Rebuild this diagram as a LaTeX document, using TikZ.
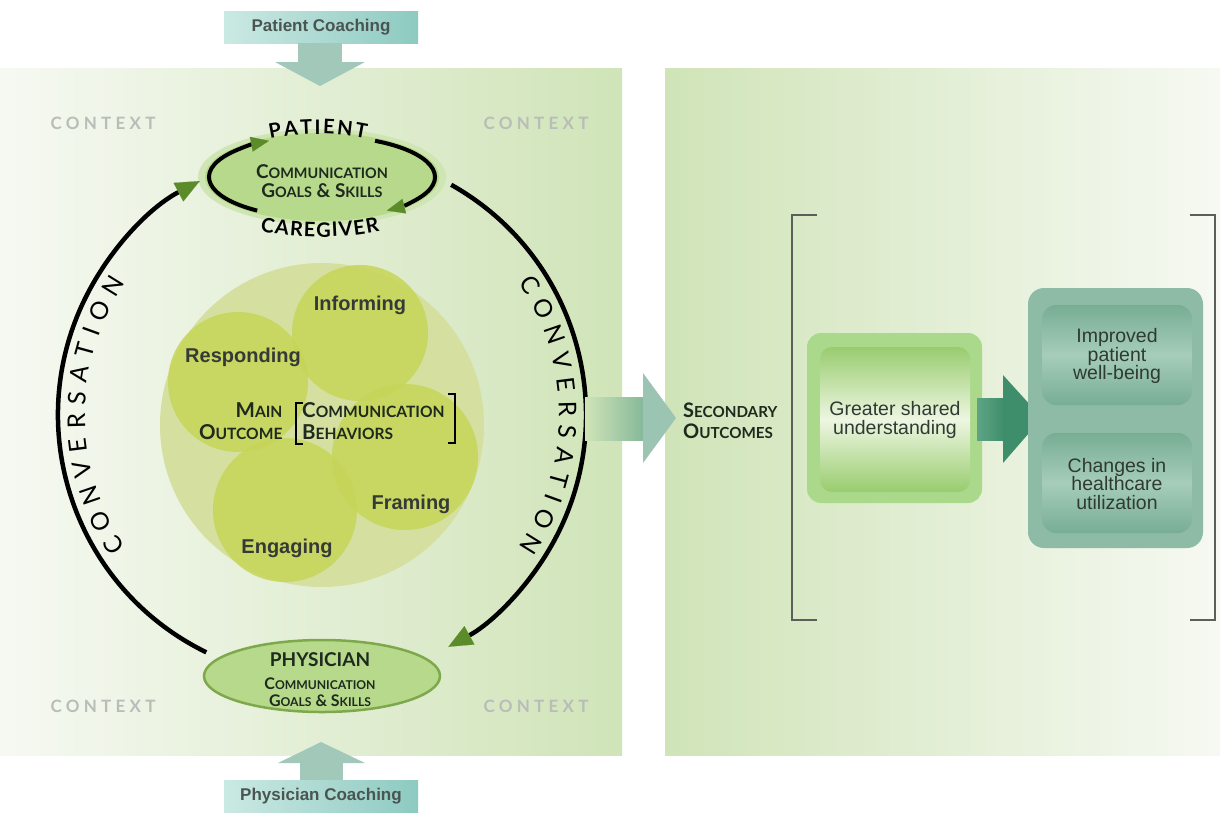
\documentclass[tikz,border=0pt]{standalone}
\usepackage{fontspec}
\setmainfont{Liberation Sans}
\newfontfamily\hum{Lato}
\newfontfamily\ctx[LetterSpace=25]{Lato}
\usetikzlibrary{decorations.text,arrows.meta,shapes.geometric,calc}
\makeatletter
\newcommand\sk[1]{{\fontsize{\strip@pt\dimexpr\f@size pt*76/100\relax}{0}\selectfont #1}}
\makeatother
\definecolor{panelG}{HTML}{D0E4B8}
\definecolor{panelW}{HTML}{F6F9F2}
\definecolor{ellG}{HTML}{B7D98B}
\definecolor{haloG}{HTML}{CFE6B4}
\definecolor{ellEdge}{HTML}{7DA94C}
\definecolor{tipG}{HTML}{5C8C2A}
\definecolor{bigC}{HTML}{D5E0A0}
\definecolor{petal}{HTML}{C6D558}
\definecolor{ctxGray}{HTML}{B8BDB8}
\definecolor{tealA}{HTML}{86B99A}
\definecolor{tealB}{HTML}{9CC4B2}
\definecolor{dteal}{HTML}{3E8E6C}
\definecolor{dtealL}{HTML}{5FA486}
\definecolor{boxOut}{HTML}{8DBBA5}
\definecolor{boxInD}{HTML}{78AD94}
\definecolor{boxInL}{HTML}{A6CDBA}
\definecolor{gsuOut}{HTML}{ABD98C}
\definecolor{gsuIn}{HTML}{98CC6E}
\definecolor{gsuMid}{HTML}{EEF6E2}
\definecolor{txt}{HTML}{2F3A33}
\definecolor{behT}{HTML}{363A36}
\definecolor{smtxt}{HTML}{1E2A1E}
\definecolor{coachA}{HTML}{CBE9E3}
\definecolor{coachB}{HTML}{8DCAC1}
\definecolor{coachT}{HTML}{4A5552}
\definecolor{cArrow}{HTML}{A2C8BA}
\definecolor{brk}{HTML}{5A5F5A}
\tikzset{
  ctxt/.style={font=\ctx\bfseries\fontsize{17}{19}\selectfont, text=ctxGray},
  beh/.style={font=\bfseries\fontsize{20}{22}\selectfont, text=behT, anchor=base},
  outtxt/.style={font=\fontsize{19.5}{18.5}\selectfont, text=txt, align=center},
  scx/.style={font=\hum\bfseries\fontsize{15}{22}\selectfont, text=smtxt},
  coach/.style={font=\bfseries\fontsize{17}{19}\selectfont, text=coachT},
  conv/.style={line width=4.5pt, black, -{Triangle[length=24pt,width=21pt,color=tipG,line width=0.1pt]}},
  patarc/.style={line width=4pt, black, -{Triangle[length=18pt,width=15pt,color=tipG,line width=0.1pt]}},
  petalc/.style={fill=petal, fill opacity=0.85},
  brack/.style={draw=brk, line width=1.4pt},
}
\begin{document}
\begin{tikzpicture}[x=1pt,y=1pt]
\useasboundingbox (0,0) rectangle (1220,-812);
\fill[white] (0,0) rectangle (1220,-812);
% panels
\shade[left color=panelW, right color=panelG] (0,-68) rectangle (622,-755);
\shade[left color=panelG, right color=panelW] (665,-68) rectangle (1220,-755);

% coaching boxes and arrows
\shade[left color=coachA, right color=coachB] (224,-11) rectangle (418,-43);
\node[coach] (pcoach) at (321,-27) {Patient Coaching};
\fill[cArrow] (298,-43) rectangle (342,-62);
\fill[cArrow] (275,-62) -- (365,-62) -- (320,-86) -- cycle;

\fill[cArrow] (300,-763) rectangle (343,-782);
\fill[cArrow] (278,-763) -- (365,-763) -- (321,-742) -- cycle;
\shade[left color=coachA, right color=coachB] (224,-780) rectangle (418,-812);
\node[coach] (phcoach) at (321,-796) {Physician Coaching};

% context labels
\node[ctxt] (c1) at (103,-123) {CONTEXT};
\node[ctxt] (c2) at (536,-123) {CONTEXT};
\node[ctxt] (c3) at (103,-706) {CONTEXT};
\node[ctxt] (c4) at (536,-706) {CONTEXT};

% central circle and petals
\fill[bigC] (322,-425) circle (162);
\fill[petalc] (285,-510) circle (72);
\fill[petalc] (405,-457) circle (73);
\fill[petalc] (238,-382) circle (70);
\fill[petalc] (360,-333) circle (68);
\node[beh] (inf) at (360,-310) {Informing};
\node[beh] (res) at (243,-362) {Responding};
\node[beh] (fra) at (411,-509) {Framing};
\node[beh] (eng) at (287,-553) {Engaging};
\node[scx, anchor=east, align=right, font=\hum\bfseries\fontsize{20.5}{22}\selectfont] (mo) at (286,-421) {M\sk{AIN}\\O\sk{UTCOME}};
\node[scx, anchor=west, align=left, font=\hum\bfseries\fontsize{20.5}{22}\selectfont, inner xsep=2pt] (cb) at (300,-421) {C\sk{OMMUNICATION}\\B\sk{EHAVIORS}};
\draw[brack, line width=1.2pt, draw=black] (303,-403) -- (296,-403) -- (296,-444) -- (303,-444);
\draw[brack, line width=1.2pt, draw=black] (448,-394) -- (455,-394) -- (455,-443) -- (448,-443);

% patient ellipse
\fill[haloG] (322,-177) ellipse [x radius=124, y radius=48];
\node[ellipse, fill=ellG, minimum width=234pt, minimum height=88pt, inner sep=0pt] (pat) at (322,-177) {};
\node[scx, align=center, font=\hum\bfseries\fontsize{19}{19}\selectfont] (pattxt) at (322,-181) {C\sk{OMMUNICATION}\\G\sk{OALS} \& S\sk{KILLS}};
\draw[patarc] (pat.center) ++(235:113 and 41) arc[start angle=235, end angle=118, x radius=113, y radius=41];
\draw[patarc] (pat.center) ++(62:113 and 41) arc[start angle=62, end angle=-55, x radius=113, y radius=41];
\coordinate (patC) at (318,-364);
\path[decorate, decoration={text along path, text={|\hum\bfseries\fontsize{20}{22}\selectfont|PATIENT}, text align={fit to path}}] (patC) ++(102:230) arc[start angle=102, end angle=78, radius=230];
\coordinate (cgC) at (320,63);
\path[decorate, decoration={text along path, text={|\hum\bfseries\fontsize{20}{22}\selectfont|CAREGIVER}, text align={fit to path}}] (cgC) ++(258.5:300) arc[start angle=258.5, end angle=281.5, radius=300];

% physician ellipse
\node[ellipse, fill=ellG, draw=ellEdge, line width=2.5pt, minimum width=236pt, minimum height=72pt, inner sep=0pt] (phy) at (322,-676) {};
\node[font=\hum\bfseries\fontsize{19}{20}\selectfont, text=smtxt] (phyname) at (320,-660) {PHYSICIAN};
\node[scx, align=center, font=\hum\bfseries\fontsize{16}{17}\selectfont] (phytxt) at (320,-692) {C\sk{OMMUNICATION}\\G\sk{OALS} \& S\sk{KILLS}};

% conversation arcs
\coordinate (cc) at (322,-415);
\coordinate (convL) at ($(cc)+(244:264)$);
\coordinate (convR) at ($(cc)+(60.7:264)$);
\draw[conv] (convL) arc[start angle=244, end angle=117.6, radius=264];
\draw[conv] (convR) arc[start angle=60.7, end angle=-61.4, radius=264];
\path[decorate, decoration={text along path, text={|\hum\fontsize{24.5}{27}\selectfont|CONVERSATION}, text align={fit to path}}] (cc) ++(214:237) arc[start angle=214, end angle=146, radius=237];
\path[decorate, decoration={text along path, text={|\hum\fontsize{24.5}{27}\selectfont|CONVERSATION}, text align={fit to path}}] (cc) ++(34:237) arc[start angle=34, end angle=-34, radius=237];

% big arrow to secondary outcomes
\shade[left color=panelG, right color=tealA] (585,-397) rectangle (643,-440);
\fill[tealB] (643,-373) -- (676,-418) -- (643,-463) -- cycle;

\node[scx, anchor=west, align=left, font=\hum\bfseries\fontsize{20}{21}\selectfont, inner xsep=0pt] (sec) at (683,-421) {S\sk{ECONDARY}\\O\sk{UTCOMES}};

% brackets
\draw[brack] (817,-215) -- (792,-215) -- (792,-620) -- (817,-620);
\draw[brack] (1190,-215) -- (1215,-215) -- (1215,-620) -- (1190,-620);

% greater shared understanding
\fill[gsuOut, rounded corners=14pt] (807,-333) rectangle (982,-503);
\shade[rounded corners=12pt, top color=gsuIn, bottom color=gsuIn, middle color=gsuMid] (820,-347) rectangle (970,-492);
\node[outtxt] (gsu) at (895,-420) {Greater shared\\understanding};

% dark arrow
\shade[left color=dtealL, right color=dteal] (977,-398) rectangle (1004,-440);
\fill[dteal] (1003,-375) -- (1042,-418) -- (1003,-463) -- cycle;

% right outcome box
\fill[boxOut, rounded corners=16pt] (1028,-288) rectangle (1203,-548);
\shade[rounded corners=14pt, top color=boxInD, bottom color=boxInD, middle color=boxInL] (1042,-305) rectangle (1192,-405);
\shade[rounded corners=14pt, top color=boxInD, bottom color=boxInD, middle color=boxInL] (1042,-433) rectangle (1192,-533);
\node[outtxt] (ipw) at (1117,-356) {Improved\\patient\\well-being};
\node[outtxt] (chu) at (1117,-484) {Changes in\\healthcare\\utilization};
\end{tikzpicture}
\end{document}
